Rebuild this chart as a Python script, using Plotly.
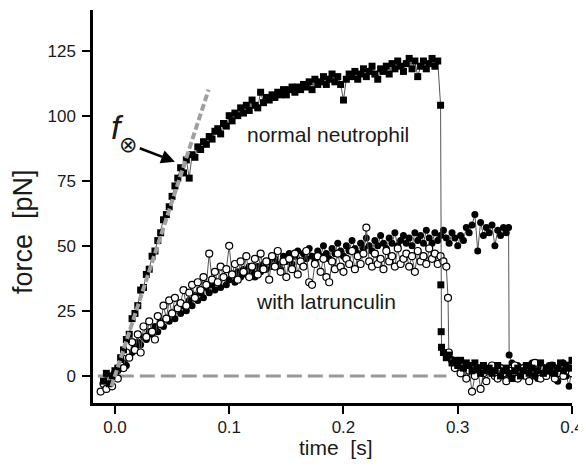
import plotly.graph_objects as go

# sampling interval of the force traces [s]
dt = 0.0025

# normal neutrophil (black squares)
sq_t0 = -0.010
sq_force = [-2, 1, -3, 0, 2, 3, 7, 10, 14, 16,
            22, 24, 27, 33, 34, 39, 41, 46, 48, 52,
            55, 60, 62, 65, 69, 73, 76, 80, 78, 83,
            76, 85, 84, 88, 87, 90, 89, 92, 91, 94,
            95, 93, 97, 96, 100, 98, 101, 100, 103, 101,
            104, 102, 106, 104, 103, 109, 105, 107, 106, 108,
            107, 109, 108, 110, 108, 110, 111, 109, 111, 110,
            112, 111, 113, 110, 114, 112, 113, 115, 112, 114,
            116, 113, 115, 112, 106, 114, 116, 115, 117, 114,
            116, 118, 115, 117, 119, 116, 114, 118, 117, 119,
            116, 120, 118, 121, 119, 117, 120, 122, 118, 121,
            115, 119, 121, 118, 120, 122, 119, 121]
sq_drop_t = [0.2850, 0.2852, 0.2855, 0.2858]
sq_drop_f = [104, 35, 17, 11]
sq_tail_t0 = 0.2875
sq_tail = [9, 7, 8, 5, 6, 4, 6, 3, 5, 4,
           2, 5, 3, 1, 4, 2, 3, 1, 2, 4,
           0, 2, 3, 1, -1, 2, 3, 0, 2, 4,
           1, 3, 0, 2, 5, 1, 3, 2, 4, 1,
           3, 5, 2, 4, 3, 6]

# with latrunculin, open circles
op_t0 = -0.0125
op_force = [-6, -3, -5, -1, -4, 1, -1, 4, 3, 9,
            7, 13, 10, 16, 9, 19, 15, 21, 17, 14,
            23, 20, 27, 22, 29, 24, 30, 26, 28, 33,
            27, 32, 35, 30, 36, 33, 38, 35, 47, 37,
            40, 36, 42, 38, 41, 50, 39, 43, 37, 44,
            40, 46, 38, 42, 45, 39, 47, 41, 44, 37,
            46, 42, 48, 40, 44, 38, 45, 41, 47, 39,
            44, 42, 48, 36, 35, 43, 46, 40, 45, 38,
            36, 44, 41, 47, 42, 40, 45, 43, 48, 41,
            46, 43, 47, 57, 44, 42, 47, 43, 45, 41,
            48, 44, 46, 42, 49, 43, 45, 47, 42, 46,
            40, 48, 44, 46, 43, 49, 45, 47, 43, 46,
            44, 42]
op_drop_t = [0.2915, 0.2922]
op_drop_f = [30, 9]
op_tail_t0 = 0.295
op_tail = [6, 3, 5, 1, 4, -1, 2, -6, 0, 3,
           -5, 1, -2, 2, 4, 0, -1, 3, 1, -2,
           2, 0, 4, -1, 1, 3, 0, -2, 2, 5,
           1, -1, 3, 0, 2, 4, -1, 1, 3, 0,
           2, 4, 1]

# with latrunculin, filled circles
fc_t0 = -0.005
fc_force = [-2, 0, -1, 2, 3, 5, 4, 8, 9, 11,
            13, 12, 15, 14, 17, 16, 19, 17, 21, 19,
            22, 21, 24, 22, 26, 24, 27, 25, 29, 27,
            31, 29, 32, 30, 34, 32, 35, 33, 36, 34,
            38, 35, 37, 39, 36, 40, 38, 41, 39, 42,
            40, 38, 42, 40, 43, 41, 44, 42, 45, 43,
            41, 46, 44, 47, 43, 46, 48, 44, 47, 45,
            49, 46, 44, 48, 46, 50, 47, 45, 49, 47,
            51, 48, 46, 50, 48, 52, 49, 47, 51, 49,
            53, 50, 48, 52, 50, 54, 51, 49, 53, 51,
            55, 50, 52, 54, 51, 53, 50, 55, 52, 54,
            51, 56, 53, 51, 55, 52, 54, 56, 53, 51,
            55, 53, 50, 54, 52, 57, 55, 58, 62, 48,
            59, 54, 57, 55, 58, 50, 56, 54, 57, 55]
fc_drop_t = [0.3445, 0.3450]
fc_drop_f = [57, 8]
fc_tail_t0 = 0.3475
fc_tail = [5, 2, 4, 1, 3, 0, 2, 5, 1, -1, 3, 2, 0, 4, 1, 3, -2, 2, 5, 0, -4, 3]

# initial slope fit and zero baseline
fit_t = [-0.003, 0.082]
fit_f = [-4, 110]
zero_t = [-0.015, 0.290]
zero_f = [0, 0]

x_ticks = [0.0, 0.1, 0.2, 0.3, 0.4]
y_ticks = [0, 25, 50, 75, 100, 125]

FONT = "Liberation Sans, Arial, sans-serif"
INK = "#1a1a1a"


def build(t0, force, drop_t, drop_f, tail_t0, tail):
    t = [t0 + i * dt for i in range(len(force))]
    t += drop_t
    t += [tail_t0 + i * dt for i in range(len(tail))]
    return t, force + drop_f + tail


fig = go.Figure()

fig.add_trace(go.Scatter(x=zero_t, y=zero_f, mode="lines",
                         line=dict(color="#999999", width=3, dash="15px,6px")))

t, f = build(fc_t0, fc_force, fc_drop_t, fc_drop_f, fc_tail_t0, fc_tail)
fig.add_trace(go.Scatter(x=t, y=f, mode="lines+markers",
                         line=dict(color="#555555", width=1),
                         marker=dict(symbol="circle", size=7, color="black")))

t, f = build(op_t0, op_force, op_drop_t, op_drop_f, op_tail_t0, op_tail)
fig.add_trace(go.Scatter(x=t, y=f, mode="lines+markers",
                         line=dict(color="#555555", width=1),
                         marker=dict(symbol="circle", size=7, color="white",
                                     line=dict(color="black", width=1.2))))

t, f = build(sq_t0, sq_force, sq_drop_t, sq_drop_f, sq_tail_t0, sq_tail)
fig.add_trace(go.Scatter(x=t, y=f, mode="lines+markers",
                         line=dict(color="#555555", width=1),
                         marker=dict(symbol="square", size=7, color="black")))

fig.add_trace(go.Scatter(x=fit_t, y=fit_f, mode="lines",
                         line=dict(color="#a0a0a0", width=4, dash="7px,3px")))

axis_common = dict(
    showline=True, linecolor="black", linewidth=2.5,
    ticks="outside", ticklen=8, tickwidth=2, tickcolor="black",
    showgrid=False, zeroline=False, automargin=False,
    tickfont=dict(family=FONT, size=17, color=INK),
)

fig.update_xaxes(range=[-0.0192, 0.4], tickvals=x_ticks, tickformat=".1f",
                 ticklabelstandoff=-1, **axis_common)
fig.update_yaxes(range=[-10.4, 140.6], tickvals=y_ticks,
                 ticklabelstandoff=3, **axis_common)

fig.add_annotation(x=0.1864, y=92.6, text="normal neutrophil", showarrow=False,
                   font=dict(family=FONT, size=21, color=INK))
fig.add_annotation(x=0.1846, y=28.7, text="with latrunculin", showarrow=False,
                   font=dict(family=FONT, size=21, color=INK))

# f_x label with arrow
fig.add_annotation(x=0.0026, y=95.5, text="<i>f</i>", showarrow=False,
                   font=dict(family=FONT, size=34, color=INK))
fig.add_annotation(x=0.0115, y=89.0, text="⊗", showarrow=False,
                   font=dict(family="DejaVu Sans", size=22, color=INK))
fig.add_annotation(x=0.0525, y=82.3, ax=0.0204, ay=87.7, axref="x", ayref="y",
                   text="", showarrow=True, arrowhead=2, arrowsize=1.1,
                   arrowwidth=2.5, arrowcolor="black", standoff=0)

# axis titles
fig.add_annotation(xref="paper", yref="paper", x=0.507, y=-0.1145,
                   xanchor="center", yanchor="middle",
                   text="time\u00a0\u00a0[s]", showarrow=False,
                   font=dict(family=FONT, size=21, color=INK))
fig.add_annotation(xref="paper", yref="paper", x=-0.146, y=0.435,
                   xanchor="center", yanchor="middle",
                   text="force\u00a0\u00a0[pN]", showarrow=False, textangle=-90,
                   font=dict(family=FONT, size=27, color=INK))

# the page body adds an 8px offset, so the figure is 8px smaller than the window
fig.update_layout(
    width=578, height=458,
    margin=dict(l=85, r=14, t=2, b=63),
    paper_bgcolor="white", plot_bgcolor="white",
    showlegend=False,
)

fig.write_html("out.html")
